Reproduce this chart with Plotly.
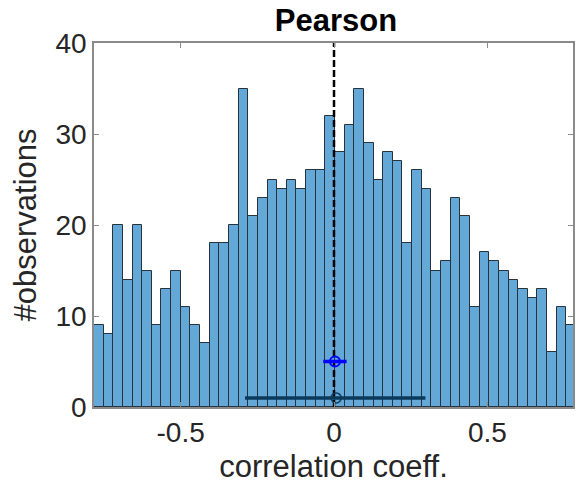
import plotly.graph_objects as go

# Histogram data (counts per bin)
bin_start = -0.7825
bin_width = 0.03143
counts = [9, 8, 20, 14, 20, 15, 9, 13, 15, 11,
          9, 7, 18, 18, 20, 35, 21, 23, 25, 24,
          25, 24, 26, 26, 32, 28, 31, 35, 29, 25,
          28, 27, 18, 26, 24, 15, 16, 23, 21, 11,
          17, 16, 15, 14, 13, 12, 13, 6, 11, 9]
centers = [bin_start + (i + 0.5) * bin_width for i in range(len(counts))]

# summary markers
mean_x, mean_y, mean_err = 0.003, 5, 0.038
range_x = [-0.29, 0.007, 0.298]
range_y = [1, 1, 1]

FONT = "Liberation Sans, Arial, sans-serif"

fig = go.Figure()
fig.add_trace(go.Bar(
    x=centers, y=counts, width=bin_width,
    marker=dict(color="#64a8d7", line=dict(color="#26323c", width=1)),
    showlegend=False,
))
fig.add_trace(go.Scatter(
    x=[0, 0], y=[0, 40], mode="lines",
    line=dict(color="black", width=2.5, dash="7px,3px"), showlegend=False,
))
fig.add_trace(go.Scatter(
    x=[range_x[0], range_x[2]], y=[range_y[0], range_y[2]], mode="lines",
    line=dict(color="#0b3a5c", width=3.5), showlegend=False,
))
fig.add_trace(go.Scatter(
    x=[range_x[1]], y=[range_y[1]], mode="markers",
    marker=dict(symbol="circle-open", size=10, color="#0b3a5c", line=dict(width=1.5)),
    showlegend=False,
))
fig.add_trace(go.Scatter(
    x=[mean_x], y=[mean_y], mode="markers",
    marker=dict(symbol="circle-open", size=10, color="#0000ff", line=dict(width=2)),
    error_x=dict(type="constant", value=mean_err, color="#0000ff", thickness=3.5, width=0),
    showlegend=False,
))

axis_common = dict(
    showline=True, linecolor="#8a8a8a", linewidth=1.5, mirror="ticks",
    ticks="inside", ticklen=5, tickcolor="#8a8a8a", tickwidth=1.2,
    showgrid=False, zeroline=False,
    tickfont=dict(family=FONT, size=28, color="#262626"),
)
fig.update_layout(
    width=576, height=495,
    margin=dict(l=94, r=1, t=43, b=88),
    plot_bgcolor="white", paper_bgcolor="white",
    bargap=0,
    title=dict(text="<b>Pearson</b>", x=336 / 576, xanchor="center", y=1 - 20 / 495, yanchor="middle",
               font=dict(family=FONT, size=31, color="black")),
    xaxis=dict(range=[-0.7825, 0.7792], tickvals=[-0.5, 0, 0.5], ticktext=["-0.5", "0", "0.5"],
               title=dict(text="correlation coeff.", standoff=8,
                          font=dict(family=FONT, size=31, color="#262626")),
               **axis_common),
    yaxis=dict(range=[0, 40], tickvals=[0, 10, 20, 30, 40],
               title=dict(text="#observations", standoff=10,
                          font=dict(family=FONT, size=31, color="#262626")),
               **axis_common),
)
fig.write_html("out.html")
